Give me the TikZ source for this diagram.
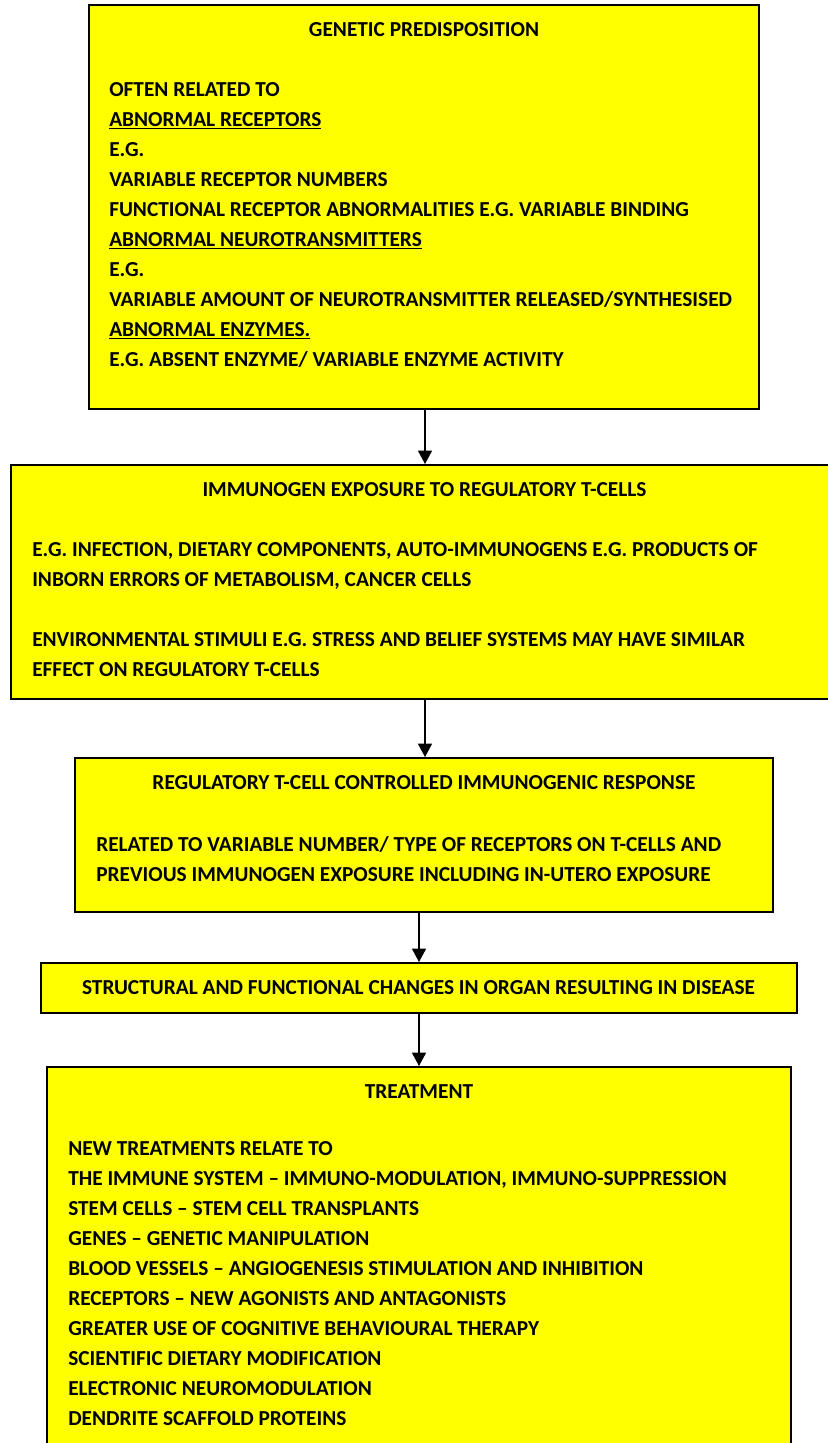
\documentclass[tikz,border=0pt]{standalone}
\usepackage{fontspec}
\setmainfont{Carlito}
\usetikzlibrary{arrows.meta,positioning}
\definecolor{boxyellow}{RGB}{255,255,0}

\begin{document}
\begin{tikzpicture}[
  x=0.75pt, y=-0.75pt,
  arr/.style = {-{Triangle[width=10.5pt,length=10pt]}, line width=0.9pt},
  flowbox/.style = {draw, line width=1.5pt, fill=boxyellow, inner sep=0pt},
  headtext/.style = {font=\fontsize{16}{22.5}\selectfont\bfseries, inner sep=0pt},
  bodytext/.style = {font=\fontsize{16}{22.5}\selectfont\bfseries, inner sep=0pt,
                     align=left, anchor=north west},
]
\useasboundingbox (0,0) rectangle (828,1443);

% Boxes
\node[flowbox, minimum width=502.5pt, minimum height=303pt] (genetic) at (424,207) {};
\node[flowbox, minimum width=621pt, minimum height=175.5pt] (immunogen) at (425,582) {};
\node[flowbox, minimum width=523.5pt, minimum height=115.5pt] (response) at (424,835) {};
\node[flowbox, minimum width=567pt, minimum height=37.5pt] (structural) at (419,988) {};
\node[flowbox, minimum width=558pt, minimum height=309.75pt] (treatment) at (419,1273.5) {};

% Genetic predisposition
\node[headtext] (genetictitle) at (424,30) {GENETIC PREDISPOSITION};
\node[bodytext] (genetictext) at (109,82) {OFTEN RELATED TO\\
  \underline{ABNORMAL RECEPTORS}\\
  E.G.\\
  VARIABLE RECEPTOR NUMBERS\\
  FUNCTIONAL RECEPTOR ABNORMALITIES E.G. VARIABLE BINDING\\
  \underline{ABNORMAL NEUROTRANSMITTERS}\\
  E.G.\\
  VARIABLE AMOUNT OF NEUROTRANSMITTER RELEASED/SYNTHESISED\\
  \underline{ABNORMAL ENZYMES.}\\
  E.G. ABSENT ENZYME/ VARIABLE ENZYME ACTIVITY};

% Immunogen exposure
\node[headtext] (immunogentitle) at (424.5,490) {IMMUNOGEN EXPOSURE TO REGULATORY T-CELLS};
\node[bodytext] (immunogentext) at (32,542) {E.G. INFECTION, DIETARY COMPONENTS, AUTO-IMMUNOGENS E.G. PRODUCTS OF\\
  INBORN ERRORS OF METABOLISM, CANCER CELLS\\[22.5pt]
  ENVIRONMENTAL STIMULI E.G. STRESS AND BELIEF SYSTEMS MAY HAVE SIMILAR\\
  EFFECT ON REGULATORY T-CELLS};

% Immunogenic response
\node[headtext] (responsetitle) at (424,783) {REGULATORY T-CELL CONTROLLED IMMUNOGENIC RESPONSE};
\node[bodytext] (responsetext) at (96,836) {RELATED TO VARIABLE NUMBER/ TYPE OF RECEPTORS ON T-CELLS AND\\
  PREVIOUS IMMUNOGEN EXPOSURE INCLUDING IN-UTERO EXPOSURE};

% Disease
\node[headtext] (structuraltext) at (418.5,988) {STRUCTURAL AND FUNCTIONAL CHANGES IN ORGAN RESULTING IN DISEASE};

% Treatment
\node[headtext] (treatmenttitle) at (419,1092) {TREATMENT};
\node[bodytext] (treatmenttext) at (68,1141) {NEW TREATMENTS RELATE TO\\
  THE IMMUNE SYSTEM -- IMMUNO-MODULATION, IMMUNO-SUPPRESSION\\
  STEM CELLS -- STEM CELL TRANSPLANTS\\
  GENES -- GENETIC MANIPULATION\\
  BLOOD VESSELS -- ANGIOGENESIS STIMULATION AND INHIBITION\\
  RECEPTORS -- NEW AGONISTS AND ANTAGONISTS\\
  GREATER USE OF COGNITIVE BEHAVIOURAL THERAPY\\
  SCIENTIFIC DIETARY MODIFICATION\\
  ELECTRONIC NEUROMODULATION\\
  DENDRITE SCAFFOLD PROTEINS};

% Arrows
\draw[arr] (immunogen.north |- genetic.south) -- (immunogen.north);
\draw[arr] (immunogen.south) -- (immunogen.south |- response.north);
\draw[arr] (response.south -| structural.north) -- (structural.north);
\draw[arr] (structural.south) -- (treatment.north);
\end{tikzpicture}
\end{document}
